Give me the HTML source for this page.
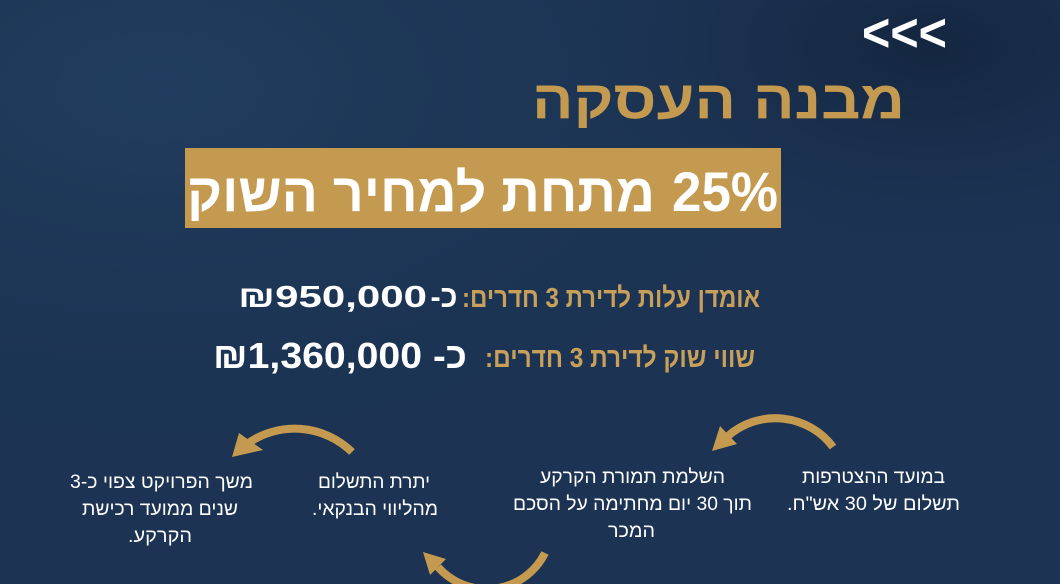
<!DOCTYPE html>
<html>
<head>
<meta charset="utf-8">
<style>
html,body{margin:0;padding:0;background:#1c3454;}
svg{display:block;}
text{font-family:"Liberation Sans","DejaVu Sans",sans-serif;}
</style>
</head>
<body>
<svg width="1060" height="584" viewBox="0 0 1060 584" xmlns="http://www.w3.org/2000/svg">
<defs>
<radialGradient id="g1" cx="0.15" cy="0.15" r="0.7">
<stop offset="0" stop-color="#213d5e"/>
<stop offset="1" stop-color="#1c3454" stop-opacity="0"/>
</radialGradient>
<radialGradient id="g2" cx="0.88" cy="0.08" r="0.35">
<stop offset="0" stop-color="#14263f"/>
<stop offset="1" stop-color="#1a2f4e" stop-opacity="0"/>
</radialGradient>
</defs>
<rect x="0" y="0" width="1060" height="584" fill="#1c3353"/>
<rect x="0" y="0" width="1060" height="584" fill="url(#g1)"/>
<rect x="0" y="0" width="1060" height="584" fill="url(#g2)"/>

<!-- chevrons -->
<text x="904.5" y="51" font-size="54" font-weight="bold" fill="#ffffff" text-anchor="middle" textLength="85" lengthAdjust="spacingAndGlyphs">&lt;&lt;&lt;</text>

<!-- title -->
<text x="718.5" y="118" font-size="54" font-weight="bold" fill="#c49a50" text-anchor="middle" direction="rtl" textLength="373" lengthAdjust="spacingAndGlyphs">מבנה העסקה</text>

<!-- gold box -->
<rect x="185" y="148" width="596" height="80" fill="#c49a50"/>
<text x="725" y="211" font-size="56" font-weight="bold" fill="#ffffff" text-anchor="middle" textLength="106" lengthAdjust="spacingAndGlyphs">25%</text>
<text x="421" y="211" font-size="54" font-weight="bold" fill="#ffffff" text-anchor="middle" direction="rtl" textLength="468" lengthAdjust="spacingAndGlyphs">מתחת למחיר השוק</text>

<!-- line 1 -->
<text x="611" y="307" font-size="28" font-weight="bold" fill="#c9a05a" text-anchor="middle" direction="rtl" textLength="298" lengthAdjust="spacingAndGlyphs">אומדן עלות לדירת 3 חדרים:</text>
<text x="332.5" y="307" font-size="31" font-weight="bold" fill="#ffffff" text-anchor="middle" textLength="189" lengthAdjust="spacingAndGlyphs">₪950,000</text>
<text x="444" y="307" font-size="31" font-weight="bold" fill="#ffffff" text-anchor="middle" direction="rtl" textLength="27" lengthAdjust="spacingAndGlyphs">כ-</text>

<!-- line 2 -->
<text x="620" y="367" font-size="28" font-weight="bold" fill="#c9a05a" text-anchor="middle" direction="rtl" textLength="270" lengthAdjust="spacingAndGlyphs">שווי שוק לדירת 3 חדרים:</text>
<text x="317.5" y="368" font-size="36" font-weight="bold" fill="#ffffff" text-anchor="middle" textLength="209" lengthAdjust="spacingAndGlyphs">₪1,360,000</text>
<text x="450" y="368" font-size="36" font-weight="bold" fill="#ffffff" text-anchor="middle" direction="rtl" textLength="34" lengthAdjust="spacingAndGlyphs">כ-</text>

<!-- arrows -->
<g fill="none" stroke="#c49a50" stroke-width="8">
<path d="M 833 447 A 72 72 0 0 0 728 436"/>
<path d="M 352 452 A 82 82 0 0 0 247 444"/>
<path d="M 545 553 A 65 65 0 0 1 438 567"/>
</g>
<g fill="#c49a50">
<polygon points="712,451 720,426 737,444"/>
<polygon points="232,457 239,433 263,450"/>
<polygon points="423,552 446,559 430,575"/>
</g>

<!-- steps -->
<g font-size="19" fill="#ffffff" text-anchor="middle" direction="rtl" lengthAdjust="spacingAndGlyphs">
<text x="873.5" y="483" textLength="143" lengthAdjust="spacingAndGlyphs">במועד ההצטרפות</text>
<text x="873.5" y="510" textLength="173" lengthAdjust="spacingAndGlyphs">תשלום של 30 אש"ח.</text>

<text x="632.5" y="483" textLength="185" lengthAdjust="spacingAndGlyphs">השלמת תמורת הקרקע</text>
<text x="632.5" y="510" textLength="239" lengthAdjust="spacingAndGlyphs">תוך 30 יום מחתימה על הסכם</text>
<text x="631.5" y="537" textLength="47" lengthAdjust="spacingAndGlyphs">המכר</text>

<text x="374" y="488" textLength="112" lengthAdjust="spacingAndGlyphs">יתרת התשלום</text>
<text x="375" y="515" textLength="126" lengthAdjust="spacingAndGlyphs">מהליווי הבנקאי.</text>

<text x="161.5" y="488" textLength="183" lengthAdjust="spacingAndGlyphs">משך הפרויקט צפוי כ-3</text>
<text x="160" y="515" textLength="156" lengthAdjust="spacingAndGlyphs">שנים ממועד רכישת</text>
<text x="160" y="542" textLength="64" lengthAdjust="spacingAndGlyphs">הקרקע.</text>
</g>
</svg>
</body>
</html>
